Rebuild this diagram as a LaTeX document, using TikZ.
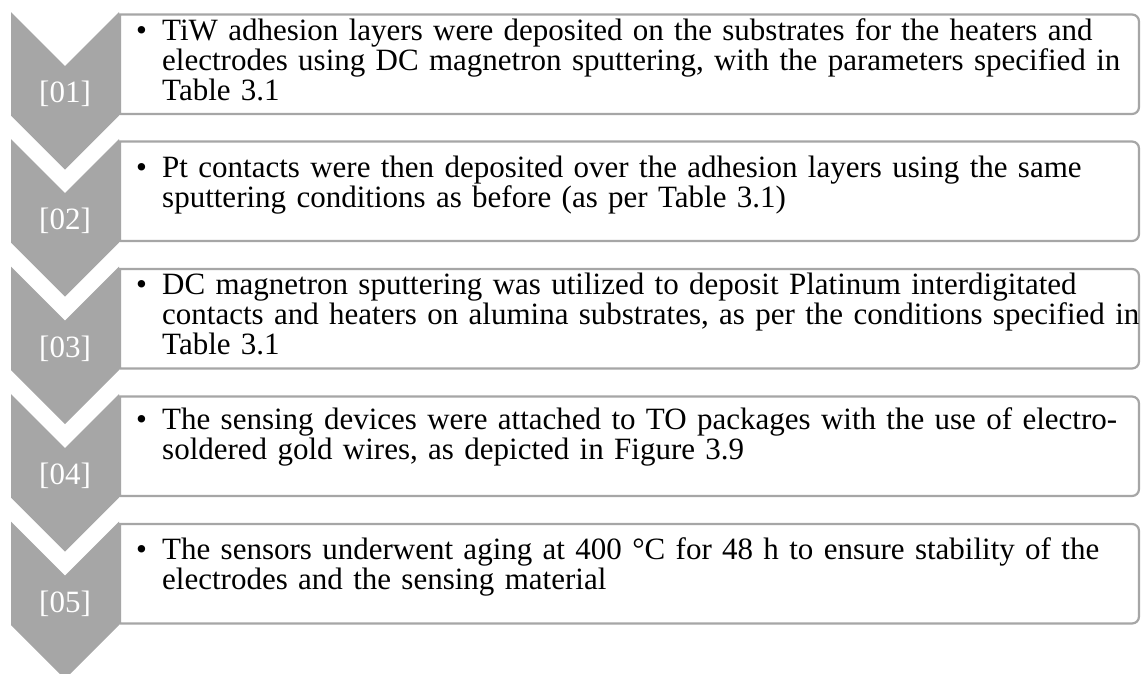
\documentclass[tikz,border=0pt]{standalone}
\usepackage{fontspec}
\setmainfont{Liberation Serif}
\definecolor{chevgray}{RGB}{166,166,166}
\definecolor{boxgray}{RGB}{166,166,166}
\newcommand\chevstep[5]{%
  % #1 id, #2 chevron top, #3 first baseline offset, #4 label, #5 text
  \draw[boxline] (120,#2+2.5) -- (1000,#2+2.5) [rounded corners=7pt] -- (1139,#2+2.5) -- (1139,#2+102) -- (1000,#2+102) [sharp corners] -- (120,#2+102) -- cycle;
  \fill[chev] (11,#2) -- (65,#2+54) -- (119,#2) -- (119,#2+103.5) -- (65,#2+157.5) -- (11,#2+103.5) -- cycle;
  \node[lbl] (lbl#1) at (65,#2+82) {#4};
  \node[bul] (bul#1) at (136,#2+#3) {•};
  \node[body] (txt#1) at (162,#2+#3) {#5};
}
\begin{document}
\begin{tikzpicture}[x=1pt,y=-1pt,
  chev/.style={fill=chevgray,draw=none},
  boxline/.style={draw=boxgray,line width=2.2pt,fill=white},
  lbl/.style={text=white,font=\fontsize{31}{30}\selectfont,inner sep=0pt},
  bul/.style={font=\fontsize{31}{30}\selectfont,inner sep=0pt,anchor=base west},
  body/.style={font=\fontsize{31}{30}\selectfont,inner sep=0pt,anchor=base west,text width=990pt,align=left}]
\useasboundingbox (0,0) rectangle (1141,673);
\clip (0,0) rectangle (1141,673);
\chevstep{1}{12}{28}{[01]}{TiW adhesion layers were deposited on the substrates for the heaters and\\electrodes using DC magnetron sputtering, with the parameters specified in\\Table 3.1}
\chevstep{2}{139}{38}{[02]}{Pt contacts were then deposited over the adhesion layers using the same\\sputtering conditions as before (as per Table 3.1)}
\chevstep{3}{266.5}{28}{[03]}{DC magnetron sputtering was utilized to deposit Platinum interdigitated\\contacts and heaters on alumina substrates, as per the conditions specified in\\Table 3.1}
\chevstep{4}{394}{35}{[04]}{The sensing devices were attached to TO packages with the use of electro-\\soldered gold wires, as depicted in Figure 3.9}
\chevstep{5}{521.5}{38}{[05]}{The sensors underwent aging at 400 °C for 48 h to ensure stability of the\\electrodes and the sensing material}
\end{tikzpicture}
\end{document}
